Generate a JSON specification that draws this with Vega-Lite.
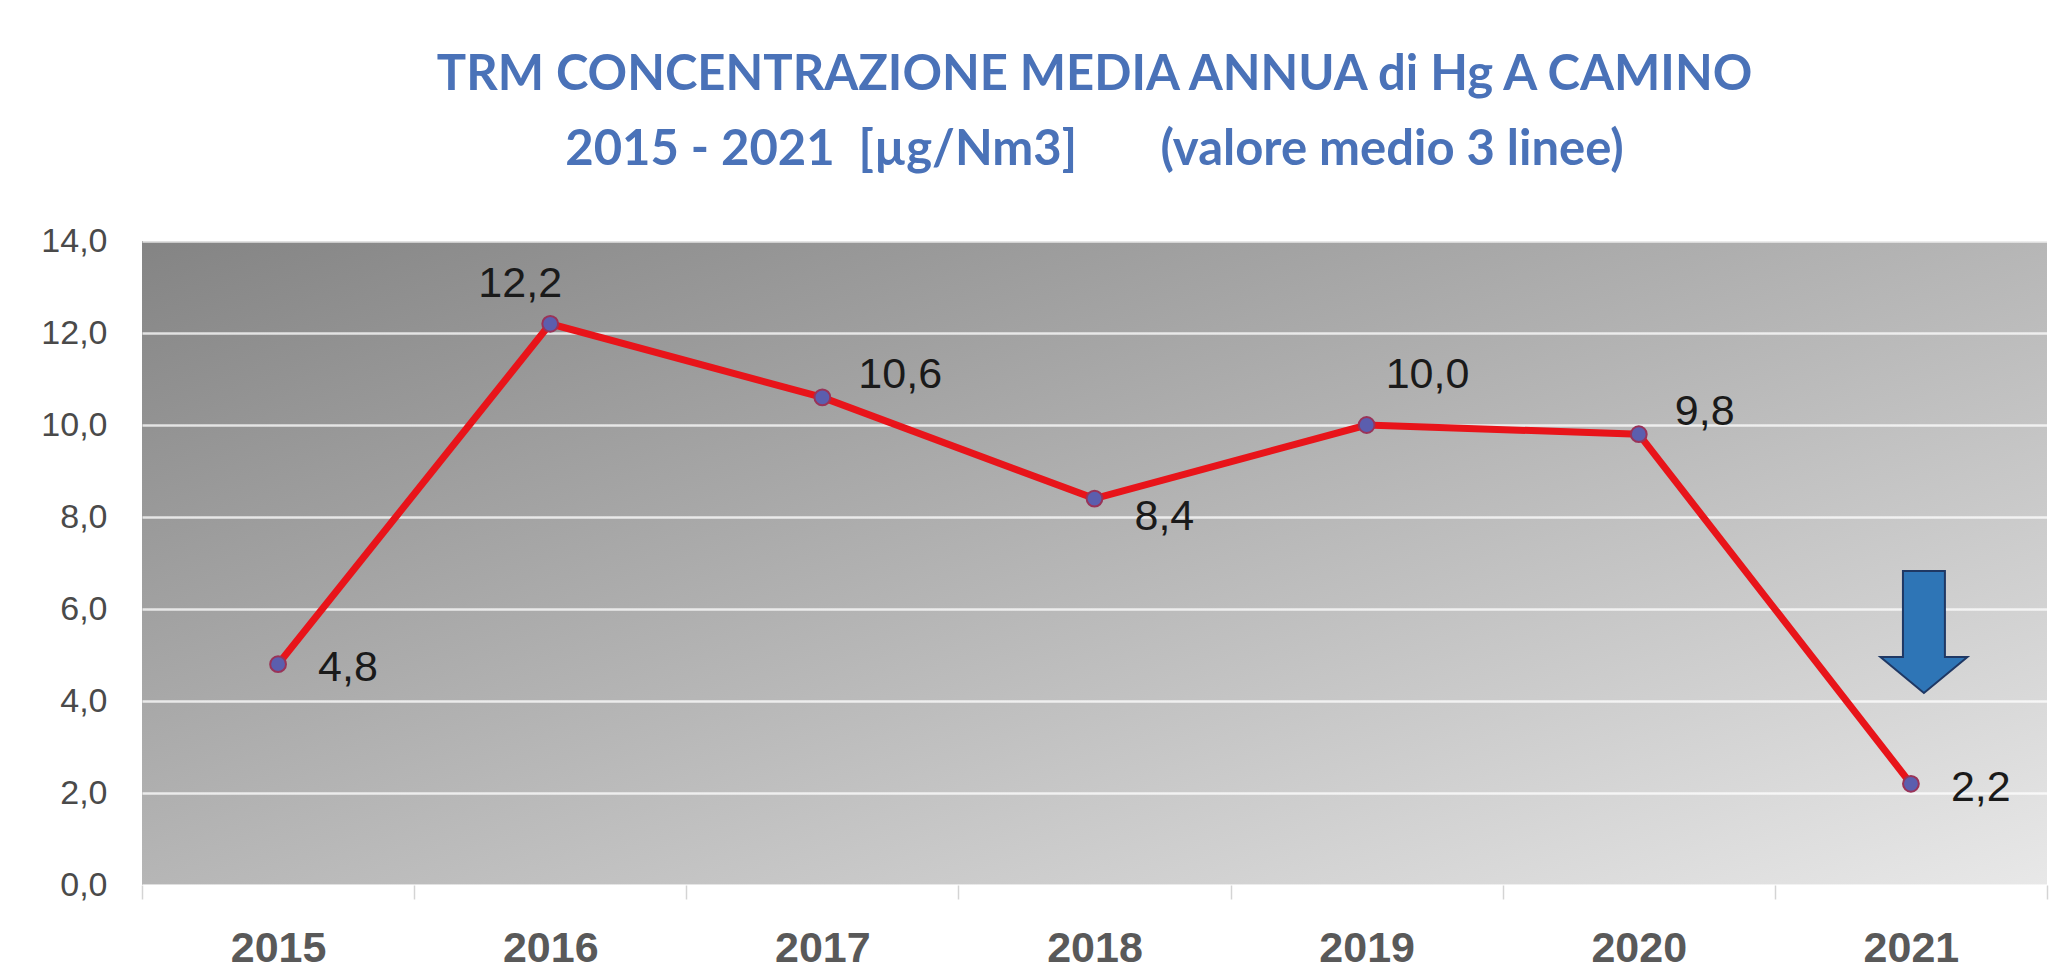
{
  "$schema": "https://vega.github.io/schema/vega-lite/v6.json",
  "autosize": {"type": "none"},
  "padding": {"left": 142, "top": 241, "right": 17, "bottom": 94},
  "width": 1905,
  "height": 644,
  "background": "white",
  "title": {
    "text": ["TRM CONCENTRAZIONE MEDIA ANNUA di Hg A CAMINO", "2015 - 2021\u00a0\u00a0[µg/Nm3]\u00a0\u00a0\u00a0\u00a0\u00a0\u00a0\u00a0(valore medio 3 linee)"],
    "font": "Lato",
    "fontSize": 49,
    "fontWeight": "bold",
    "color": "#4A72B8",
    "lineHeight": 75,
    "anchor": "middle",
    "offset": 49
  },
  "datasets": {
    "hg": [
      {"year": "2015", "value": 4.8},
      {"year": "2016", "value": 12.2},
      {"year": "2017", "value": 10.6},
      {"year": "2018", "value": 8.4},
      {"year": "2019", "value": 10.0},
      {"year": "2020", "value": 9.8},
      {"year": "2021", "value": 2.2}
    ],
    "arrow": [{"year": "2021", "value": 5.5}]
  },
  "data": {"name": "hg"},
  "encoding": {
    "x": {
      "field": "year", "type": "ordinal", "title": null,
      "scale": {"type": "band", "paddingInner": 0, "paddingOuter": 0},
      "axis": {
        "labelAngle": 0, "domain": false, "tickBand": "extent",
        "tickSize": 14, "tickColor": "#d4d4d4", "tickWidth": 1.5,
        "labelPadding": 28, "labelFont": "Liberation Sans", "labelFontSize": 43,
        "labelFontWeight": "bold", "labelColor": "#595959", "grid": false
      }
    },
    "y": {
      "field": "value", "type": "quantitative", "title": null,
      "scale": {"domain": [0, 14], "nice": false},
      "axis": {
        "values": [0, 2, 4, 6, 8, 10, 12, 14], "format": ".1f",
        "domain": false, "ticks": false, "tickSize": 0, "labelPadding": 35,
        "labelFont": "Liberation Sans", "labelFontSize": 34, "labelColor": "#4a4a4a",
        "grid": true, "gridColor": "#ffffff", "gridOpacity": 0.75, "gridWidth": 2.5
      }
    }
  },
  "layer": [
    {"mark": {"type": "line", "color": "#E8141A", "strokeWidth": 7}},
    {"mark": {"type": "point", "filled": true, "size": 250, "fill": "#5B5EAE", "stroke": "#9A3358", "strokeWidth": 2, "opacity": 1}},
    {
      "transform": [{"filter": {"field": "year", "oneOf": ["2015", "2021"]}}],
      "mark": {"type": "text", "align": "left", "baseline": "middle", "dx": 40, "dy": 4, "font": "Liberation Sans", "fontSize": 43, "color": "#1a1a1a"},
      "encoding": {"text": {"field": "value", "type": "quantitative", "format": ".1f"}}
    },
    {
      "transform": [{"filter": {"field": "year", "oneOf": ["2016"]}}],
      "mark": {"type": "text", "align": "center", "baseline": "middle", "dx": -30, "dy": -40, "font": "Liberation Sans", "fontSize": 43, "color": "#1a1a1a"},
      "encoding": {"text": {"field": "value", "type": "quantitative", "format": ".1f"}}
    },
    {
      "transform": [{"filter": {"field": "year", "oneOf": ["2017", "2020"]}}],
      "mark": {"type": "text", "align": "left", "baseline": "middle", "dx": 36, "dy": -22, "font": "Liberation Sans", "fontSize": 43, "color": "#1a1a1a"},
      "encoding": {"text": {"field": "value", "type": "quantitative", "format": ".1f"}}
    },
    {
      "transform": [{"filter": {"field": "year", "oneOf": ["2018"]}}],
      "mark": {"type": "text", "align": "left", "baseline": "middle", "dx": 40, "dy": 18, "font": "Liberation Sans", "fontSize": 43, "color": "#1a1a1a"},
      "encoding": {"text": {"field": "value", "type": "quantitative", "format": ".1f"}}
    },
    {
      "transform": [{"filter": {"field": "year", "oneOf": ["2019"]}}],
      "mark": {"type": "text", "align": "left", "baseline": "middle", "dx": 19, "dy": -50, "font": "Liberation Sans", "fontSize": 43, "color": "#1a1a1a"},
      "encoding": {"text": {"field": "value", "type": "quantitative", "format": ".1f"}}
    },
    {
      "data": {"name": "arrow"},
      "mark": {
        "type": "point", "filled": true, "size": 14884, "xOffset": 13,
        "shape": "M -0.344 -1 L 0.344 -1 L 0.344 0.41 L 0.713 0.41 L 0 1 L -0.713 0.41 L -0.344 0.41 Z",
        "fill": "#2E75B6", "stroke": "#1F3864", "strokeWidth": 2, "opacity": 1
      }
    }
  ],
  "config": {
    "locale": {"number": {"decimal": ",", "thousands": ".", "grouping": [3], "currency": ["€", ""]}},
    "view": {
      "stroke": null,
      "fill": {"gradient": "linear", "x1": 0, "y1": 0, "x2": 1, "y2": 1,
        "stops": [{"offset": 0, "color": "#848484"}, {"offset": 1, "color": "#e8e8e8"}]}
    }
  }
}
